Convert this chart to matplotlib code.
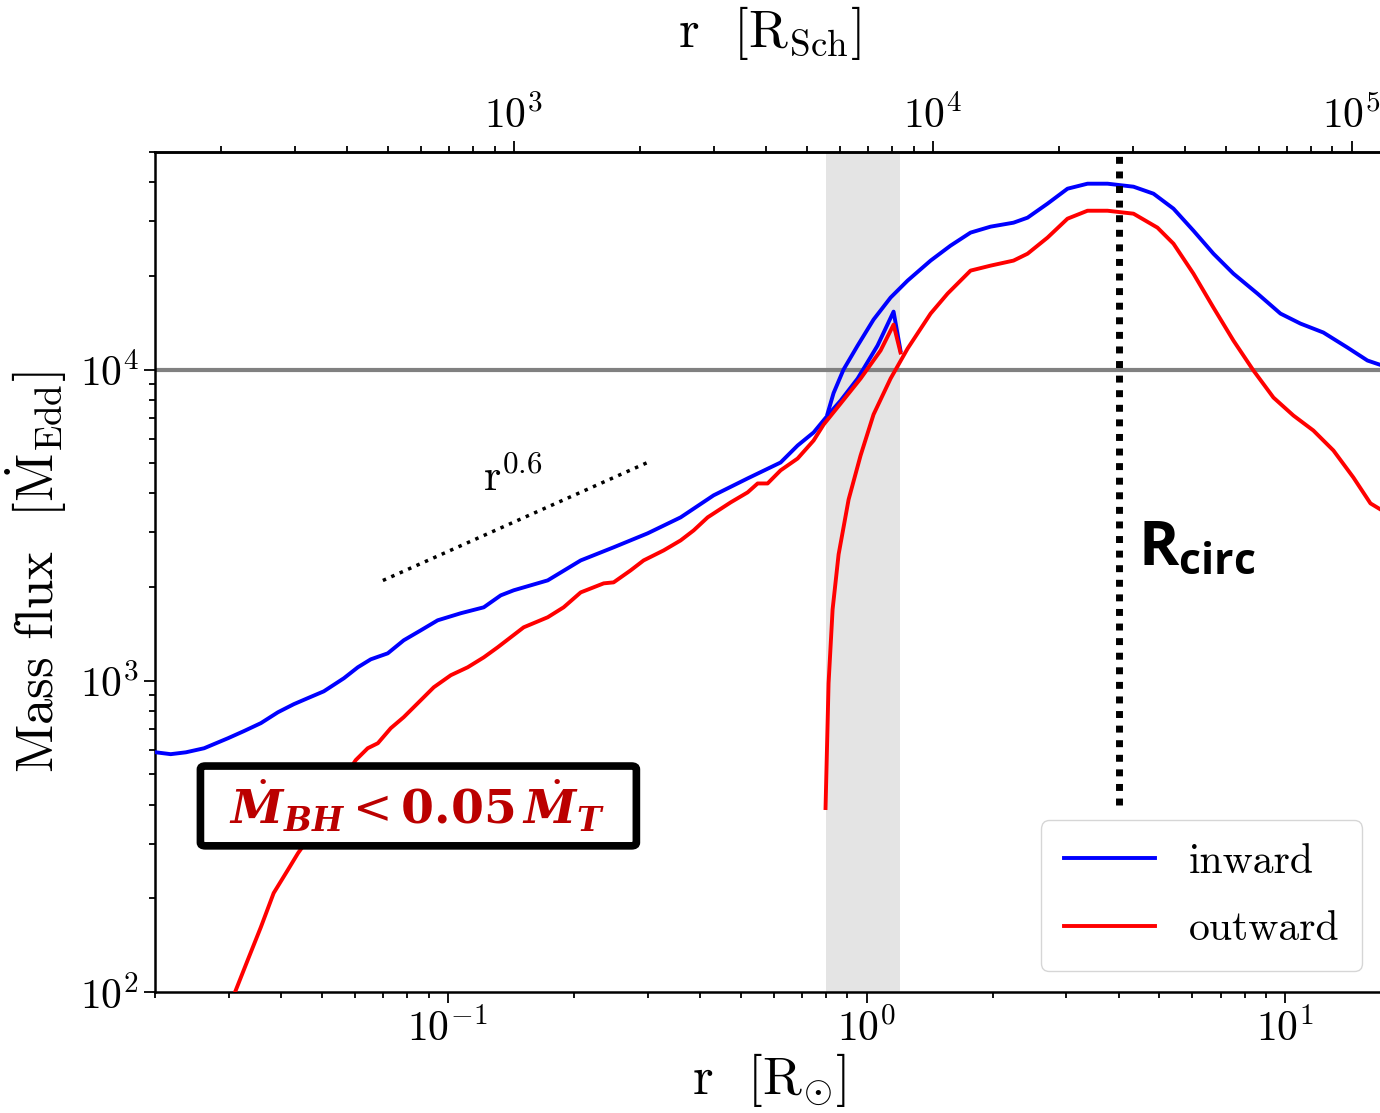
import numpy as np
import matplotlib
matplotlib.use("Agg")
import matplotlib.pyplot as plt
from matplotlib.patches import FancyBboxPatch

plt.rcParams['font.family'] = 'serif'
plt.rcParams['font.serif'] = ['cmr10']
plt.rcParams['mathtext.fontset'] = 'cm'
plt.rcParams['mathtext.bf'] = 'Open Sans:bold'
plt.rcParams['axes.formatter.use_mathtext'] = True
plt.rcParams['axes.unicode_minus'] = True

# inner run (r < 1.2 Rsun), inward flux
r_in_a = [0.0201, 0.0218, 0.0237, 0.0262, 0.0299, 0.0326, 0.0358, 0.0393, 0.0429, 0.0463,
          0.0506, 0.0565, 0.0610, 0.0655, 0.0719, 0.0785, 0.0862, 0.0946, 0.1074, 0.1219,
          0.1338, 0.1437, 0.1733, 0.2077, 0.2489, 0.300, 0.3598, 0.4313, 0.520, 0.6233,
          0.6845, 0.7474, 0.807, 0.867, 0.952, 1.062, 1.160, 1.205]
flux_in_a = [589, 581, 589, 607, 654, 689, 731, 792, 841, 879,
             925, 1019, 1105, 1172, 1225, 1349, 1452, 1564, 1648, 1722,
             1881, 1953, 2102, 2436, 2684, 2976, 3350, 3943, 4469, 5027,
             5701, 6279, 7116, 7946, 9355, 11940, 15350, 11510]

# inner run, outward flux
r_out_a = [0.0295, 0.0312, 0.0333, 0.0358, 0.0384, 0.0415, 0.0439, 0.0471, 0.0511, 0.0555,
           0.0603, 0.0644, 0.0681, 0.0731, 0.0785, 0.0848, 0.0926, 0.1017, 0.1116, 0.1219,
           0.1316, 0.1518, 0.1733, 0.1891, 0.2077, 0.2357, 0.2489, 0.2733, 0.2935, 0.3278,
           0.3598, 0.3865, 0.4174, 0.4736, 0.520, 0.5494, 0.5803, 0.6233, 0.6845, 0.7474,
           0.7898, 0.867, 0.9676, 1.080, 1.160, 1.205]
flux_out_a = [84, 101.5, 126.7, 161.7, 207.9, 246.5, 279.3, 319, 390, 469,
              556, 607, 630, 704, 764, 847, 953, 1042, 1105, 1189,
              1281, 1485, 1600, 1722, 1923, 2056, 2071, 2263, 2436, 2624,
              2825, 3042, 3350, 3742, 4030, 4305, 4305, 4743, 5178, 5916,
              6658, 7778, 9355, 11510, 13940, 11340]

# outer run (r > 0.8 Rsun), inward flux
r_in_b = [0.807, 0.834, 0.881, 0.952, 1.039, 1.141, 1.253, 1.422, 1.586, 1.771,
          1.977, 2.243, 2.423, 2.704, 3.018, 3.369, 3.761, 4.338, 4.842, 5.404,
          6.031, 6.733, 7.514, 8.576, 9.73, 10.86, 12.32, 14.06, 15.70, 17.33]
flux_in_b = [7223, 8400, 10000, 11940, 14470, 17030, 19310, 22390, 25000, 27540,
             28780, 29640, 30760, 34120, 38110, 39550, 39550, 38680, 36730, 32880,
             27940, 23560, 20330, 17540, 15130, 14050, 13150, 11770, 10690, 10220]

# outer run, outward flux
r_out_b = [0.798, 0.8114, 0.8296, 0.8574, 0.906, 0.9676, 1.039, 1.141, 1.253, 1.422,
           1.561, 1.771, 1.977, 2.243, 2.423, 2.704, 3.018, 3.369, 3.761, 4.338,
           4.949, 5.404, 6.031, 6.733, 7.514, 8.388, 9.363, 10.45, 11.66, 13.02,
           14.53, 15.96, 17.33]
flux_out_b = [390, 982, 1696, 2547, 3825, 5296, 7171, 9355, 11680, 15130,
              17540, 20790, 21570, 22390, 23560, 26540, 30530, 32380, 32380, 31680,
              28570, 25380, 20330, 15810, 12390, 9930, 8128, 7116, 6370, 5495,
              4500, 3715, 3474]

overlap = (0.8, 1.2)       # region covered by both runs [Rsun]
r_circ = 4.0               # circularisation radius [Rsun]
eddington_ref = 1e4
guide_r = np.array([0.07, 0.3])
guide_norm = 2100
guide_slope = 0.6
rsun_to_rsch = 6950.0

fig = plt.figure(figsize=(13.8, 11.13), dpi=100)
ax = fig.add_axes([155/1380, 121/1113, 1228/1380, 840/1113])

ax.axvspan(*overlap, color='0.895', lw=0, zorder=0)
ax.axhline(eddington_ref, color='gray', lw=3, zorder=1)

lw = 2.8
ax.plot(r_in_a, flux_in_a, color='blue', lw=lw, zorder=3, label='inward')
ax.plot(r_out_a, flux_out_a, color='red', lw=lw, zorder=3, label='outward')
ax.plot(r_in_b, flux_in_b, color='blue', lw=lw, zorder=3)
ax.plot(r_out_b, flux_out_b, color='red', lw=lw, zorder=3)

ax.plot([r_circ, r_circ], [400, 5e4], color='black', lw=5, ls=(0, (1, 1.1)), zorder=4)
ax.text(4.45, 2350, r'$\mathbf{R_{circ}}$', math_fontfamily='custom', fontsize=44,
        ha='left', va='baseline', zorder=5)

ax.plot(guide_r, guide_norm * (guide_r / guide_r[0]) ** guide_slope, color='black',
        lw=2.5, ls=':', zorder=4)
ax.text(0.143, 4470, r'r$^{0.6}$', fontsize=32, ha='center', va='center')

box = FancyBboxPatch((0.037, 0.174), 0.355, 0.095, boxstyle='round,pad=0,rounding_size=0.004',
                     transform=ax.transAxes, fc='white', ec='black', lw=5.5, zorder=6)
ax.add_patch(box)
ax.text(0.2134, 0.2214,
        r'$\dot{\mathbfit{M}}_{\mathbfit{BH}} < \mathbf{0.05}\,\dot{\mathbfit{M}}_{\mathbfit{T}}$',
        math_fontfamily='dejavuserif', color='#bb0000', fontsize=34,
        ha='center', va='center', transform=ax.transAxes, zorder=7)

ax.set_xscale('log')
ax.set_yscale('log')
ax.set_xlim(0.02, 17.1)
ax.set_ylim(100, 5e4)

ax.set_xlabel(r'r  $[\mathrm{R}_{\odot}]$', fontsize=38, labelpad=2)
ax.set_ylabel(r'Mass flux  $[\dot{\mathrm{M}}_{\mathrm{Edd}}]$', fontsize=38, labelpad=8)
ax.tick_params(which='both', labelsize=30, width=1.3)
ax.tick_params(which='major', length=8)
ax.tick_params(which='minor', length=4)
for s in ax.spines.values():
    s.set_linewidth(1.8)

top = ax.secondary_xaxis('top', functions=(lambda r: r * rsun_to_rsch,
                                           lambda s: s / rsun_to_rsch))
top.set_xlabel(r'r  $[\mathrm{R_{Sch}}]$', fontsize=38, labelpad=34)
top.tick_params(which='both', labelsize=30, width=1.3)
top.tick_params(which='major', length=8)
top.tick_params(which='minor', length=4)
top.spines['top'].set_linewidth(1.8)

leg = ax.legend(loc='lower right', fontsize=30, handlelength=2.2, handletextpad=0.8,
                borderpad=0.55, labelspacing=0.72, fancybox=True)
leg.set_zorder(8)

fig.savefig('out.png', dpi=100)
